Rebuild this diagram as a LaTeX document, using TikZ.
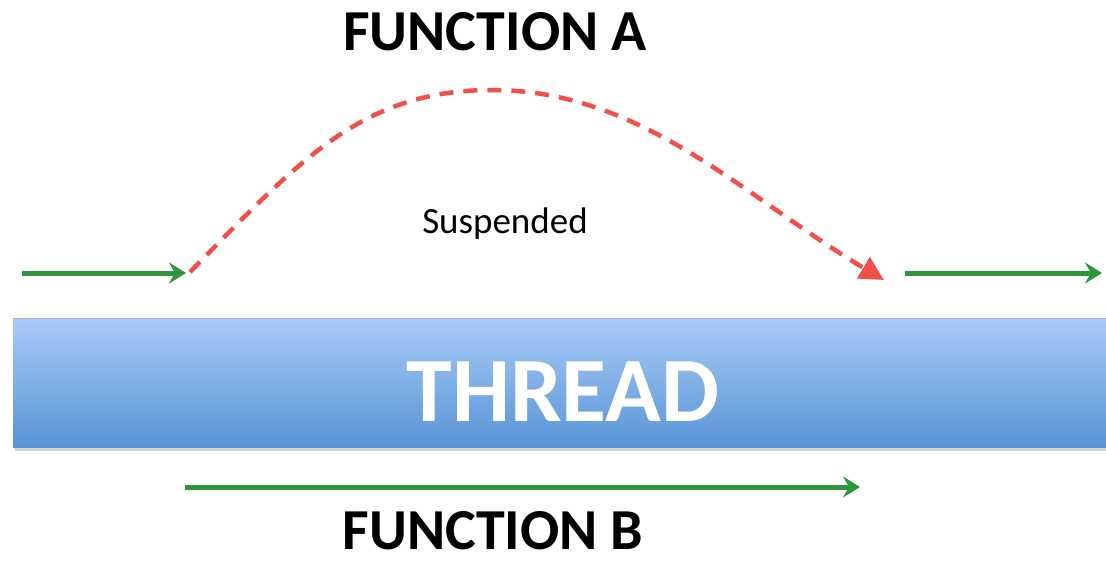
\documentclass[tikz,border=0pt]{standalone}
\usepackage{fontspec}
\setmainfont{Carlito}
\usetikzlibrary{arrows.meta}
\definecolor{arrgreen}{RGB}{46,150,58}
\definecolor{arrred}{RGB}{240,80,72}
\definecolor{bartop}{RGB}{168,203,247}
\definecolor{barbot}{RGB}{88,148,214}
\tikzset{
  greenarrow/.style={draw=arrgreen, line width=5pt, -{Stealth[length=17pt,width=21pt,inset=6pt]}},
  redarrow/.style={draw=arrred, line width=4.5pt, dash pattern=on 14pt off 10pt, -{Triangle[length=24pt,width=24pt]}},
  titletext/.style={font=\bfseries\fontsize{58}{60}\selectfont, anchor=base, inner sep=0pt},
}
\begin{document}
\begin{tikzpicture}[x=1pt,y=-1pt]
\useasboundingbox (0,0) rectangle (1106,562);
\fill[white] (0,0) rectangle (1106,562);
% shadow of bar
\fill[black!18] (15,320) rectangle (1110,451);
\shade[top color=bartop, bottom color=barbot] (13,318) rectangle (1110,447);
\draw[color=bartop!80!black!80, line width=1pt] (13,318.5) -- (1110,318.5);
\node[font=\bfseries\fontsize{92}{94}\selectfont, text=white, anchor=base, inner sep=0pt] (thread) at (563,421) {THREAD};
\node[titletext] (fa) at (495,50) {FUNCTION A};
\node[titletext] (fb) at (493,549) {FUNCTION B};
\node[font=\fontsize{37}{40}\selectfont, anchor=base, inner sep=0pt] (susp) at (505,233) {Suspended};
\coordinate (l1) at (22,273);
\coordinate (l2) at (186,273);
\coordinate (r1) at (905,273);
\coordinate (r2) at (1102,273);
\coordinate (b1) at (185,487);
\coordinate (b2) at (860,487);
\coordinate (c0) at (190,272);
\coordinate (cp) at (492,90);
\coordinate (c1) at (884,280);
\draw[greenarrow] (l1) -- (l2);
\draw[greenarrow] (r1) -- (r2);
\draw[greenarrow] (b1) -- (b2);
\draw[redarrow] (c0) .. controls (300,160) and (362,90) .. (cp) .. controls (642,90) and (743,196) .. (c1);
\end{tikzpicture}
\end{document}
